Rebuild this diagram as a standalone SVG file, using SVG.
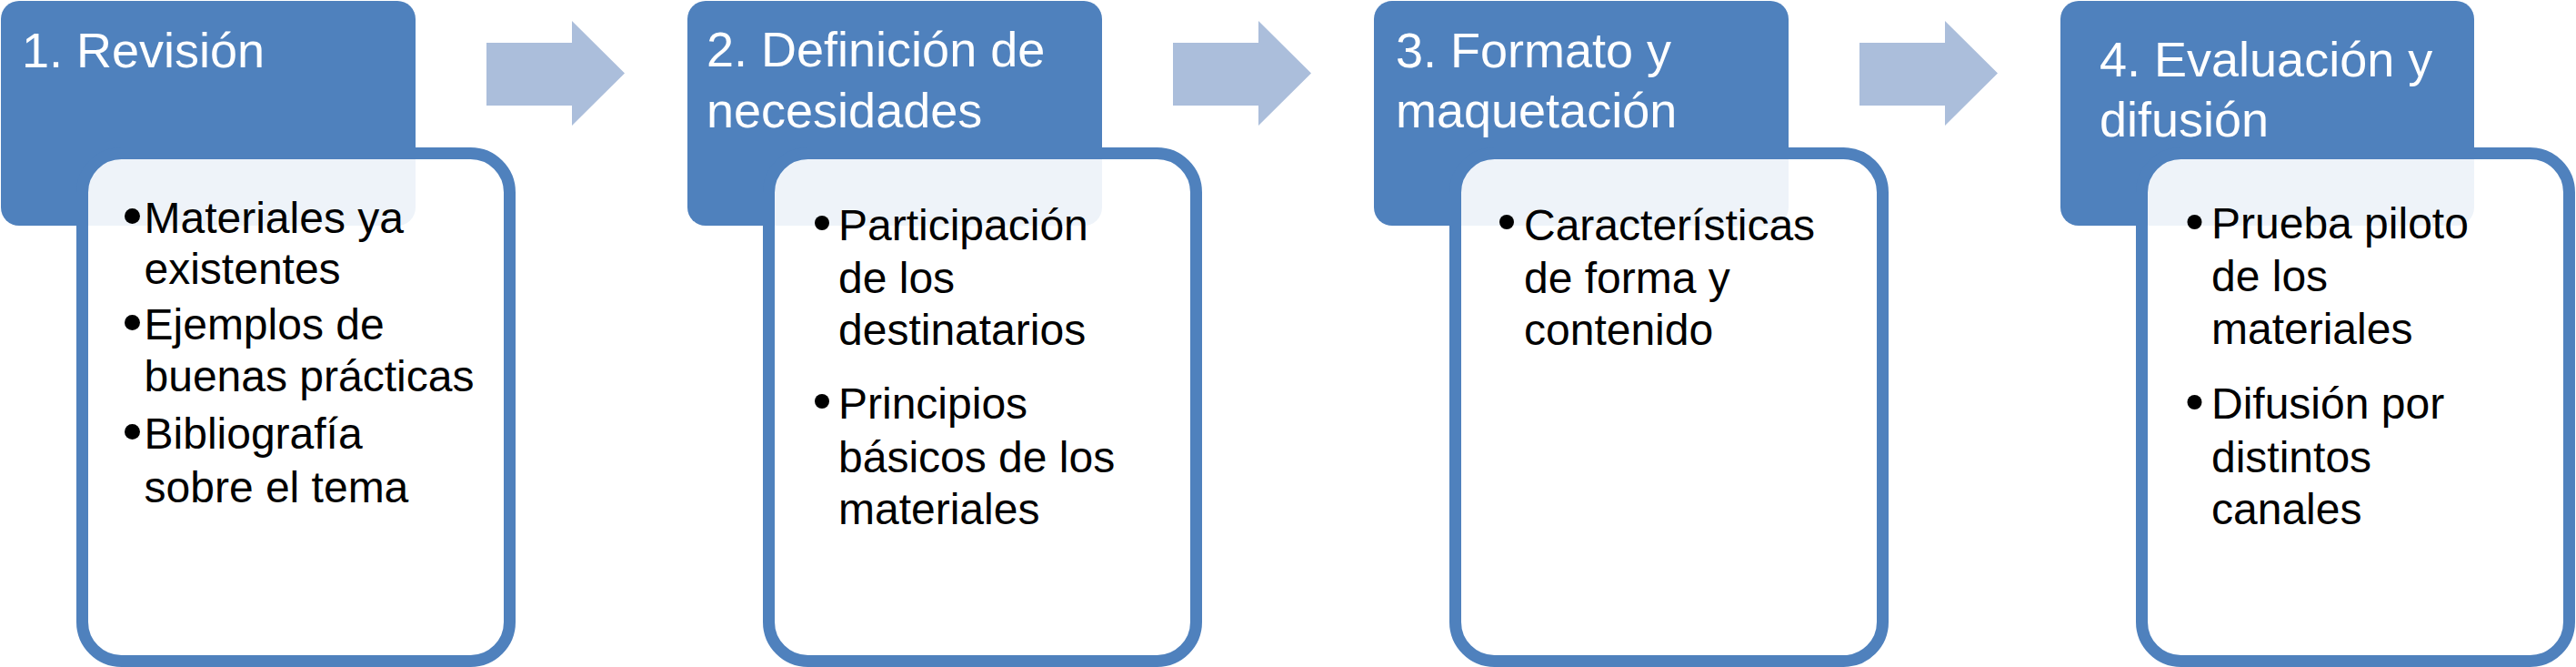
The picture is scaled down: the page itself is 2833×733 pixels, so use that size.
<svg xmlns="http://www.w3.org/2000/svg" width="2833" height="733" viewBox="0 0 2833 733">
<style>
.hdr{fill:#4F81BD}
.card{fill:#FFFFFF;fill-opacity:0.9;stroke:#4F81BD;stroke-width:13}
.arr{fill:#ABBEDB}
.ttl{font-family:"Liberation Sans",Arial,sans-serif;font-size:54px;fill:#FFFFFF}
.txt{font-family:"Liberation Sans",Arial,sans-serif;font-size:48px;fill:#000000}
.bul{fill:#000000}
</style>
<g id="connectors">
<polygon class="arr" points="535,47 629,47 629,23 687,80.5 629,138 629,116 535,116"/>
<polygon class="arr" points="1290,47 1384,47 1384,23 1442,80.5 1384,138 1384,116 1290,116"/>
<polygon class="arr" points="2045,47 2139,47 2139,23 2197,80.5 2139,138 2139,116 2045,116"/>
</g>
<g id="node1">
<rect class="hdr" x="1" y="1" width="456" height="247" rx="20"/>
<rect class="card" x="90.5" y="168.5" width="470" height="558" rx="43"/>
<text class="ttl" x="24" y="74">1. Revisión</text>
<circle class="bul" cx="145.5" cy="237.5" r="8.5"/>
<circle class="bul" cx="145.5" cy="354.5" r="8.5"/>
<circle class="bul" cx="145.5" cy="474.5" r="8.5"/>
<text class="txt" x="158.5" y="256">Materiales ya</text>
<text class="txt" x="158.5" y="312">existentes</text>
<text class="txt" x="158.5" y="373">Ejemplos de</text>
<text class="txt" x="158.5" y="430">buenas prácticas</text>
<text class="txt" x="158.5" y="493">Bibliografía</text>
<text class="txt" x="158.5" y="552">sobre el tema</text>
</g>
<g id="node2">
<rect class="hdr" x="756" y="1" width="456" height="247" rx="20"/>
<rect class="card" x="845.5" y="168.5" width="470" height="558" rx="43"/>
<text class="ttl" x="777" y="73">2. Definición de</text>
<text class="ttl" x="777" y="140">necesidades</text>
<circle class="bul" cx="904" cy="245" r="8"/>
<circle class="bul" cx="904" cy="441" r="8"/>
<text class="txt" x="922" y="264">Participación</text>
<text class="txt" x="922" y="322">de los</text>
<text class="txt" x="922" y="379">destinatarios</text>
<text class="txt" x="922" y="460">Principios</text>
<text class="txt" x="922" y="519">básicos de los</text>
<text class="txt" x="922" y="576">materiales</text>
</g>
<g id="node3">
<rect class="hdr" x="1511" y="1" width="456" height="247" rx="20"/>
<rect class="card" x="1600.5" y="168.5" width="470" height="558" rx="43"/>
<text class="ttl" x="1535" y="74">3. Formato y</text>
<text class="ttl" x="1535" y="140">maquetación</text>
<circle class="bul" cx="1657" cy="244" r="8"/>
<text class="txt" x="1676" y="264">Características</text>
<text class="txt" x="1676" y="322">de forma y</text>
<text class="txt" x="1676" y="379">contenido</text>
</g>
<g id="node4">
<rect class="hdr" x="2266" y="1" width="455" height="247" rx="20"/>
<rect class="card" x="2355.5" y="168.5" width="470" height="558" rx="43"/>
<text class="ttl" x="2309" y="84">4. Evaluación y</text>
<text class="ttl" x="2309" y="150">difusión</text>
<circle class="bul" cx="2413.5" cy="244" r="8"/>
<circle class="bul" cx="2413.5" cy="442" r="8"/>
<text class="txt" x="2432" y="262">Prueba piloto</text>
<text class="txt" x="2432" y="320">de los</text>
<text class="txt" x="2432" y="378">materiales</text>
<text class="txt" x="2432" y="460">Difusión por</text>
<text class="txt" x="2432" y="519">distintos</text>
<text class="txt" x="2432" y="576">canales</text>
</g>
</svg>
